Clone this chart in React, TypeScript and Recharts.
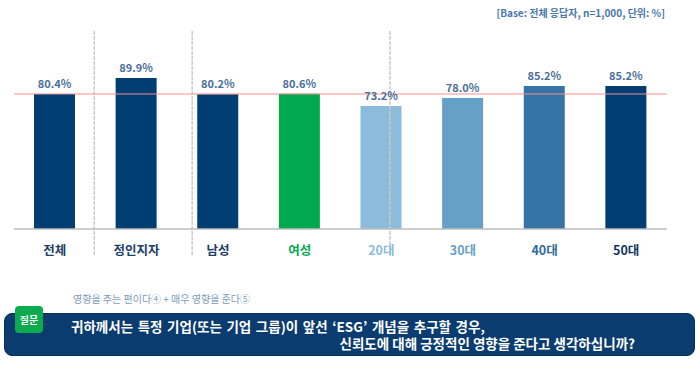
import { BarChart, Bar, XAxis, YAxis, Cell, LabelList, ReferenceLine } from "recharts";

const categories = ["전체", "정인지자", "남성", "여성", "20대", "30대", "40대", "50대"];
const values = [80.4, 89.9, 80.2, 80.6, 73.2, 78.0, 85.2, 85.2];
// group dividers, in category units from the left edge
const dividers = [0.86, 1.91, 4.03];

const barColors = ["#003d73", "#003d73", "#003d73", "#00a94f", "#8dbbdc", "#65a0c7", "#3574a4", "#003d73"];
const tickColors = ["#1b3e66", "#1b3e66", "#1b3e66", "#00a94f", "#8dbbdc", "#65a0c7", "#2f6a9f", "#0d3463"];

const data = categories.map((c, i) => ({ name: c, value: values[i] }));
const font = "'Noto Sans CJK KR', 'Noto Sans', sans-serif";

const Tick = (props: any) => {
  const { x, y, payload, index } = props;
  return (
    <text x={x} y={y + 26} textAnchor="middle" fill={tickColors[index]} fontSize={12.5} fontWeight={700} fontFamily={font}>
      {payload.value}
    </text>
  );
};

export default function App() {
  return (
    <div style={{ position: "absolute", left: 0, top: 0, width: 700, height: 370, background: "#fff", fontFamily: font }}>
      <div style={{ position: "absolute", right: 35, top: 5, fontSize: 10, fontWeight: 700, color: "#4a78aa" }}>
        [Base: 전체 응답자, n=1,000, 단위: %]
      </div>
      <BarChart width={700} height={270} data={data} margin={{ top: 30, right: 33, left: 14, bottom: 0 }}>
        <XAxis
          dataKey="name"
          height={41}
          tickLine={false}
          tickSize={0}
          tickMargin={0}
          axisLine={{ stroke: "#bdbdbd", strokeWidth: 1.5 }}
          tick={<Tick />}
          interval={0}
        />
        <XAxis xAxisId="sep" type="number" domain={[0, 8]} hide />
        <YAxis domain={[0, 118.5]} hide />
        {dividers.map((d) => (
          <ReferenceLine
            key={d}
            xAxisId="sep"
            segment={[{ x: d, y: -15.5 }, { x: d, y: 118.5 }]}
            stroke="#cacaca"
            strokeWidth={1.5}
            strokeDasharray="4 1"
            ifOverflow="visible"
          />
        ))}
        <Bar dataKey="value" barSize={41} isAnimationActive={false}>
          {data.map((d, i) => (
            <Cell key={d.name} fill={barColors[i]} />
          ))}
          <LabelList
            dataKey="value"
            position="top"
            offset={6}
            formatter={(v: any) => `${Number(v).toFixed(1)}%`}
            fill="#4a6f99"
            fontSize={11}
            fontWeight={700}
            fontFamily={font}
          />
        </Bar>
        <ReferenceLine y={values[0]} stroke="#f29090" strokeWidth={1} />
      </BarChart>
      <div style={{ position: "absolute", left: 73, top: 291, fontSize: 10, color: "#7d9abb", whiteSpace: "nowrap" }}>
        영향을 주는 편이다④ + 매우 영향을 준다⑤
      </div>
      <div
        style={{
          position: "absolute",
          left: 4,
          top: 313,
          width: 689,
          height: 41,
          background: "#0b3c70",
          border: "1px solid #072f5a",
          borderRadius: 8,
        }}
      />
      <div
        style={{
          position: "absolute",
          left: 15,
          top: 306,
          width: 28,
          height: 27,
          background: "#0bab4e",
          borderRadius: 4,
          color: "#fff",
          fontSize: 10,
          fontWeight: 700,
          display: "flex",
          alignItems: "center",
          justifyContent: "center",
        }}
      >
        질문
      </div>
      <div style={{ position: "absolute", left: 71, top: 317, fontSize: 13.5, fontWeight: 700, color: "#fff", lineHeight: "18px", whiteSpace: "nowrap", wordSpacing: 1.5 }}>
        귀하께서는 특정 기업(또는 기업 그룹)이 앞선 ‘ESG’ 개념을 추구할 경우,
      </div>
      <div style={{ position: "absolute", right: 65, top: 334, fontSize: 13.5, fontWeight: 700, color: "#fff", lineHeight: "18px", whiteSpace: "nowrap" }}>
        신뢰도에 대해 긍정적인 영향을 준다고 생각하십니까?
      </div>
    </div>
  );
}
